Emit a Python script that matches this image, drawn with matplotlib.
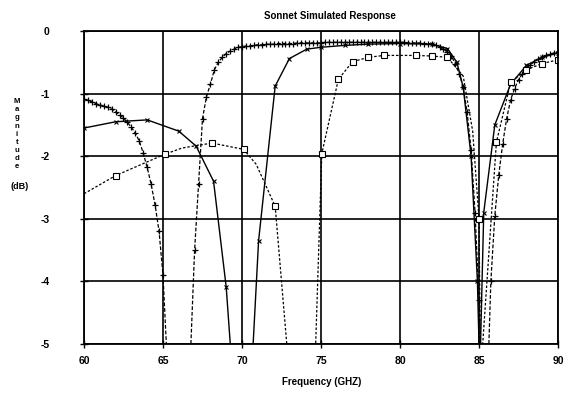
import numpy as np
import matplotlib
matplotlib.use("Agg")
from matplotlib import pyplot as plt

plt.rcParams['font.family'] = ['Liberation Sans', 'DejaVu Sans']
plt.rcParams['font.weight'] = 'bold'

# curve A: dense '+' markers, sampled every 0.25 GHz
freq_a = np.arange(60, 90.01, 0.25)
mag_a = [-1.09, -1.11, -1.13, -1.16,
         -1.18, -1.20, -1.22, -1.25,
         -1.29, -1.34, -1.39, -1.46,
         -1.54, -1.63, -1.76, -1.95,
         -2.18, -2.45, -2.78, -3.20,
         -3.90, -5.20, -7.0, -9.0,
         -9.0, -9.0, -7.0, -5.10,
         -3.50, -2.45, -1.40, -1.05,
         -0.85, -0.62, -0.50, -0.42,
         -0.36, -0.32, -0.29, -0.26,
         -0.25, -0.24, -0.24, -0.23,
         -0.22, -0.22, -0.21, -0.21,
         -0.21, -0.20, -0.20, -0.20,
         -0.20, -0.20, -0.19, -0.19,
         -0.19, -0.19, -0.19, -0.19,
         -0.19, -0.18, -0.18, -0.18,
         -0.18, -0.18, -0.18, -0.18,
         -0.18, -0.18, -0.18, -0.18,
         -0.18, -0.18, -0.18, -0.18,
         -0.18, -0.18, -0.18, -0.18,
         -0.18, -0.18, -0.19, -0.19,
         -0.19, -0.19, -0.20, -0.20,
         -0.21, -0.23, -0.26, -0.29,
         -0.33, -0.40, -0.52, -0.68,
         -0.90, -1.30, -1.90, -2.90,
         -4.30, -6.0, -6.0, -4.00,
         -2.95, -2.30, -1.80, -1.40,
         -1.10, -0.92, -0.78, -0.68,
         -0.60, -0.54, -0.49, -0.45,
         -0.42, -0.39, -0.37, -0.35,
         -0.33]

# curve B: solid line, sparse markers
freq_b = [60, 62, 64, 66, 67.1, 68.2, 69.0, 69.4, 70.6, 71.05, 72.1, 73.0, 74.1,
          75.0, 76.5, 78, 80, 82, 83, 83.6, 84.0, 84.5, 84.9, 85.05, 85.3, 86.0,
          87.0, 88.0, 89.0, 90.0]
mag_b = [-1.55, -1.45, -1.42, -1.60, -1.84, -2.40, -4.09, -5.5, -5.5, -3.35, -0.88,
         -0.44, -0.29, -0.26, -0.23, -0.21, -0.20, -0.21, -0.28, -0.50, -0.90, -2.0,
         -4.0, -5.5, -2.9, -1.5, -0.85, -0.55, -0.42, -0.35]

# curve C: dashed, open squares
freq_c = [60, 62, 65.1, 66.2, 68.1, 70.1, 70.9, 72.1, 73.0, 74.6, 75.05, 76.1, 77,
          78, 79, 81, 82, 83, 84, 84.6, 85.0, 85.1, 86.1, 87.0, 88, 89, 90]
mag_c = [-2.6, -2.31, -1.97, -1.87, -1.79, -1.89, -2.13, -2.80, -5.5, -5.5, -1.96,
         -0.77, -0.49, -0.42, -0.39, -0.39, -0.40, -0.42, -0.72, -1.6, -3.0, -5.5,
         -1.78, -0.82, -0.62, -0.52, -0.46]
marks_c = [1, 2, 4, 5, 7, 10, 11, 12, 13, 14, 15, 16, 17, 20, 22, 23, 24, 25, 26]

xticks = [60, 65, 70, 75, 80, 85, 90]
yticks = [0, -1, -2, -3, -4, -5]

fig = plt.figure(figsize=(5.65, 3.99), dpi=100)
ax = fig.add_axes([84 / 565, 1 - 344 / 399, 474 / 565, 313 / 399])

ax.plot(freq_a, mag_a, color='black', lw=0.9, ls=(0, (3, 1.5)),
        marker='+', ms=4.5, mew=0.9)
ax.plot(freq_b, mag_b, color='black', lw=1.0, ls='-',
        marker='x', ms=3, mew=0.8)
ax.plot(freq_c, mag_c, color='black', lw=0.9, ls=(0, (2, 1.5)),
        marker='s', ms=4, mfc='white', mew=0.8, markevery=marks_c)

ax.set_xlim(60, 90)
ax.set_ylim(-5, 0)
ax.set_xticks(xticks)
ax.set_yticks(yticks)
ax.set_xticklabels([str(t) for t in xticks], fontsize=7.5, fontweight='bold')
ax.set_yticklabels([str(t) for t in yticks], fontsize=7.5, fontweight='bold')
ax.tick_params(direction='inout', length=6, width=1, pad=6)
ax.tick_params(axis='y', pad=22)
ax.grid(True, color='black', lw=1.2)
for s in ax.spines.values():
    s.set_linewidth(1.3)

fig.text(330 / 565, 1 - 16 / 399, 'Sonnet Simulated Response', ha='center',
         va='center', fontsize=7, fontweight='bold')
fig.text(322 / 565, 1 - 382 / 399, 'Frequency (GHZ)', ha='center',
         va='center', fontsize=7, fontweight='bold')
for i, ch in enumerate('Magnitude'):
    fig.text(17 / 565, 1 - (101.7 + 8.1 * i) / 399, ch, ha='center',
             va='center', fontsize=5.6, fontweight='bold')
fig.text(20 / 565, 1 - 186.7 / 399, '(dB)', ha='center', va='center',
         fontsize=6.5, fontweight='bold')

fig.savefig('out.png', dpi=100)
